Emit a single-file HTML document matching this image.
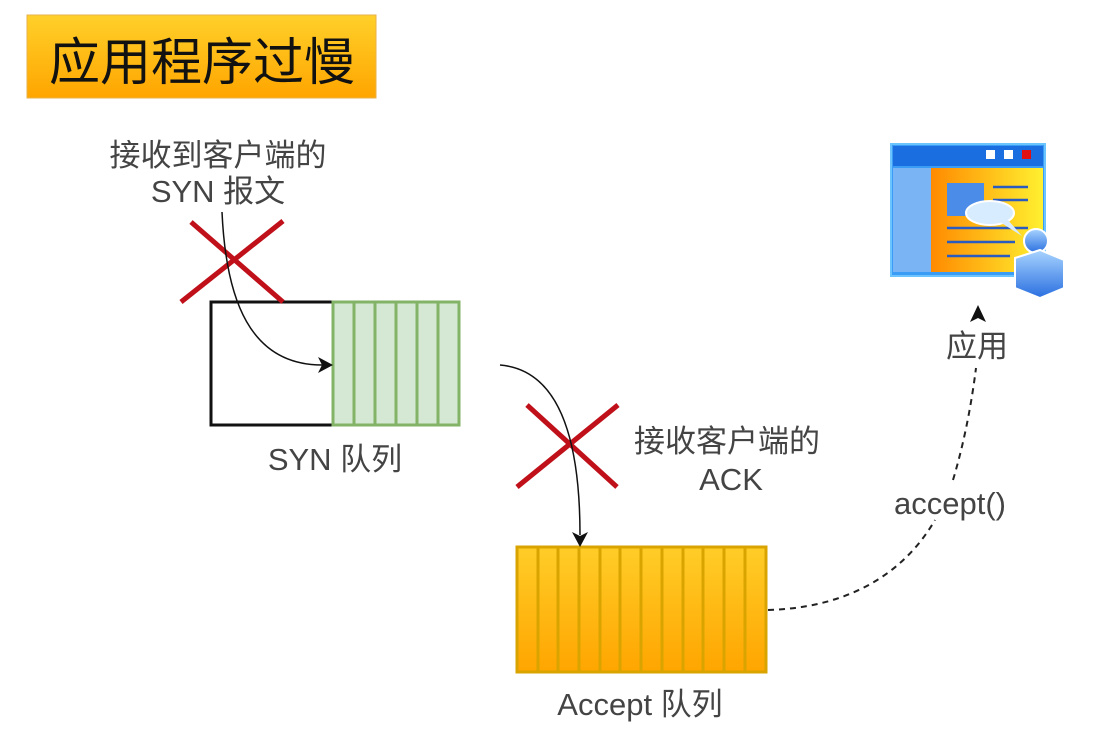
<!DOCTYPE html>
<html><head><meta charset="utf-8"><style>
html,body{margin:0;padding:0;background:#fff;}
body{width:1104px;height:734px;overflow:hidden;position:relative;}
</style></head><body>
<svg width="1104" height="734" viewBox="0 0 1104 734" xmlns="http://www.w3.org/2000/svg" style="position:absolute;left:0;top:0">
<defs>
<linearGradient id="tg" x1="0" y1="0" x2="0" y2="1"><stop offset="0" stop-color="#ffd02a"/><stop offset="1" stop-color="#ffa500"/></linearGradient>
<linearGradient id="ag" x1="0" y1="0" x2="0" y2="1"><stop offset="0" stop-color="#ffcd28"/><stop offset="1" stop-color="#ffa500"/></linearGradient>
<linearGradient id="wg" x1="0" y1="0" x2="1" y2="0"><stop offset="0" stop-color="#ff8a00"/><stop offset="1" stop-color="#fff030"/></linearGradient>
<linearGradient id="pg" x1="0" y1="0" x2="0" y2="1"><stop offset="0" stop-color="#a8d4ff"/><stop offset="1" stop-color="#2a6fe0"/></linearGradient>
</defs>
<rect x="27" y="15" width="349" height="83" fill="url(#tg)" stroke="#e8b24a" stroke-width="1"/>
<text x="202" y="80" text-anchor="middle" font-family="Liberation Sans, Noto Sans CJK SC, sans-serif" font-size="51" fill="#111">应用程序过慢</text>
<g font-family="Liberation Sans, Noto Sans CJK SC, sans-serif" font-size="31" fill="#444" text-anchor="middle">
<text x="218" y="166">接收到客户端的</text>
<text x="218" y="202">SYN 报文</text>
<text x="335" y="470">SYN 队列</text>
<text x="727" y="452">接收客户端的</text>
<text x="731" y="490">ACK</text>
<text x="640" y="715">Accept 队列</text>
<text x="977" y="357">应用</text>
<text x="950" y="514">accept()</text>
</g>
<rect x="211" y="302" width="122" height="123" fill="#fff" stroke="#111" stroke-width="3"/>
<rect x="333" y="302" width="126" height="123" fill="#d5e8d4" stroke="#82b366" stroke-width="3"/>
<g stroke="#82b366" stroke-width="3"><line x1="354" y1="302" x2="354" y2="425"/><line x1="375" y1="302" x2="375" y2="425"/><line x1="396" y1="302" x2="396" y2="425"/><line x1="417" y1="302" x2="417" y2="425"/><line x1="438" y1="302" x2="438" y2="425"/></g>
<rect x="517" y="547" width="249" height="125" fill="url(#ag)" stroke="#d9a400" stroke-width="3"/>
<g stroke="#d9a400" stroke-width="3">
<line x1="538" y1="547" x2="538" y2="672"/><line x1="558" y1="547" x2="558" y2="672"/><line x1="579" y1="547" x2="579" y2="672"/><line x1="600" y1="547" x2="600" y2="672"/><line x1="620" y1="547" x2="620" y2="672"/><line x1="641" y1="547" x2="641" y2="672"/><line x1="662" y1="547" x2="662" y2="672"/><line x1="683" y1="547" x2="683" y2="672"/><line x1="703" y1="547" x2="703" y2="672"/><line x1="724" y1="547" x2="724" y2="672"/><line x1="745" y1="547" x2="745" y2="672"/></g>
<g stroke="#c0101a" stroke-width="5"><line x1="181" y1="302" x2="283" y2="221"/><line x1="191" y1="222" x2="283" y2="302"/>
<line x1="517" y1="487" x2="618" y2="405"/><line x1="527" y1="405" x2="617" y2="487"/></g>
<path d="M222 212 C226 300 250 365 322 365" fill="none" stroke="#111" stroke-width="1.5"/>
<path d="M333 365 L318 357 L322 365 L318 373 Z" fill="#111"/>
<path d="M500 365 C560 370 580 440 580 535" fill="none" stroke="#111" stroke-width="1.5"/>
<path d="M580 547 L572 532 L580 536 L588 532 Z" fill="#111"/>
<path d="M768 610 C840 608 900 580 935 520" fill="none" stroke="#222" stroke-width="2" stroke-dasharray="6,5"/>
<path d="M953 480 C965 440 972 400 976 368" fill="none" stroke="#222" stroke-width="2" stroke-dasharray="6,5"/>
<path d="M978 305 L970 322 L978 318 L986 322 Z" fill="#111"/>
<rect x="891" y="144" width="154" height="132" fill="#3a9cf5" stroke="#6cc4ff" stroke-width="2"/>
<rect x="893" y="146" width="150" height="20" fill="#1a6ee0"/>
<rect x="986" y="150" width="9" height="9" fill="#fff"/><rect x="1004" y="150" width="9" height="9" fill="#fff"/><rect x="1022" y="150" width="9" height="9" fill="#e01010"/>
<rect x="893" y="168" width="38" height="104" fill="#7ab4f5"/>
<rect x="931" y="168" width="112" height="104" fill="url(#wg)"/>
<rect x="947" y="183" width="37" height="33" fill="#4a8ce8"/>
<g stroke="#2a5bc0" stroke-width="2.5"><line x1="993" y1="187" x2="1028" y2="187"/><line x1="993" y1="200" x2="1028" y2="200"/><line x1="947" y1="228" x2="1028" y2="228"/><line x1="947" y1="242" x2="1015" y2="242"/><line x1="947" y1="256" x2="1010" y2="256"/></g>
<ellipse cx="990" cy="213" rx="24" ry="12" fill="#d8ecff" stroke="#fff" stroke-width="2"/>
<path d="M1000 222 L1022 236 L1008 220 Z" fill="#d8ecff"/>
<circle cx="1036" cy="241" r="12" fill="url(#pg)" stroke="#fff" stroke-width="2"/>
<path d="M1015 258 L1040 250 L1064 260 L1064 288 L1040 298 L1015 288 Z" fill="url(#pg)" stroke="#fff" stroke-width="2"/>
</svg>
</body></html>
